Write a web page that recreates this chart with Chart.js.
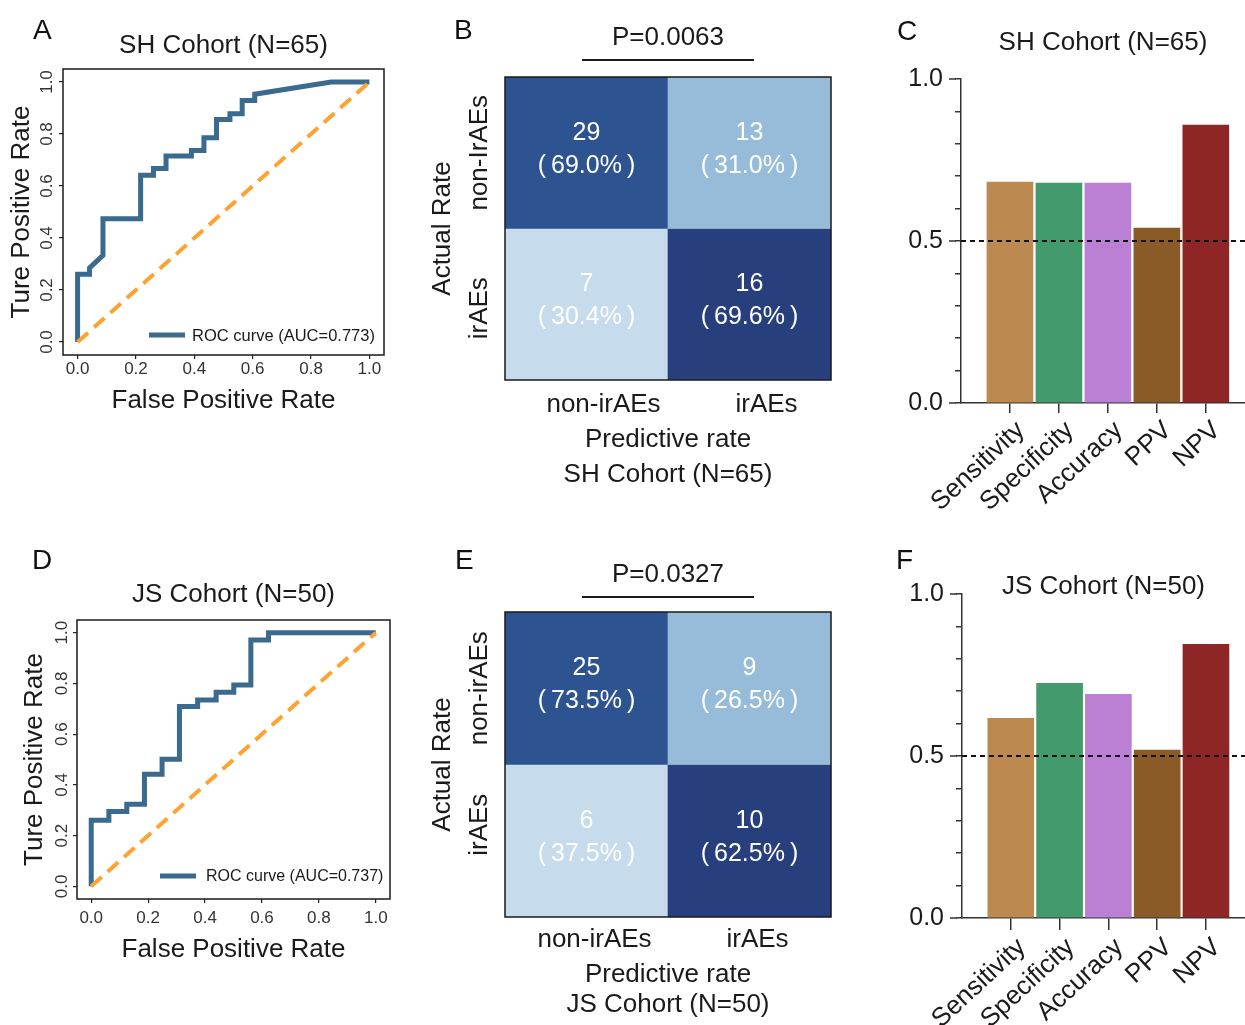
<!DOCTYPE html>
<html>
<head>
<meta charset="utf-8">
<script src="https://cdn.jsdelivr.net/npm/chart.js@4.4.1/dist/chart.umd.min.js"></script>
<style>
  body { margin: 0; background: #fff; }
  #wrap { position: relative; width: 1245px; height: 1025px; overflow: hidden; font-family: "Liberation Sans", Arial, Helvetica, sans-serif; }
  #wrap canvas { position: absolute; }
  .tag { position: absolute; font-size: 28px; line-height: 28px; color: #111; }
</style>
</head>
<body>
<div id="wrap">
  <canvas id="rocA" width="410" height="420" style="left:0;top:0"></canvas>
  <canvas id="cmB" width="430" height="500" style="left:420px;top:0"></canvas>
  <canvas id="barC" width="365" height="520" style="left:880px;top:0"></canvas>
  <canvas id="rocD" width="410" height="430" style="left:0;top:540px"></canvas>
  <canvas id="cmE" width="430" height="485" style="left:420px;top:540px"></canvas>
  <canvas id="barF" width="365" height="485" style="left:880px;top:540px"></canvas>
  <div class="tag" style="left:33px;top:16px">A</div>
  <div class="tag" style="left:454px;top:16px">B</div>
  <div class="tag" style="left:897px;top:17px">C</div>
  <div class="tag" style="left:32px;top:546px">D</div>
  <div class="tag" style="left:455px;top:546px">E</div>
  <div class="tag" style="left:896px;top:546px">F</div>
</div>
<script>
const family = '"Liberation Sans", Arial, Helvetica, sans-serif';
Chart.defaults.font.family = family;
Chart.defaults.color = '#1a1a1a';

// ROC curves
const rocTicks = [0, 0.2, 0.4, 0.6, 0.8, 1.0];
const shFpr = [0, 0, 0.041, 0.041, 0.087, 0.087, 0.216, 0.216, 0.26, 0.26, 0.303, 0.303, 0.39, 0.39, 0.433, 0.433, 0.476, 0.476, 0.522, 0.522, 0.564, 0.564, 0.607, 0.607, 0.869, 1.0];
const shTpr = [0, 0.261, 0.261, 0.285, 0.333, 0.474, 0.474, 0.641, 0.641, 0.667, 0.667, 0.715, 0.715, 0.737, 0.737, 0.786, 0.786, 0.856, 0.856, 0.878, 0.878, 0.929, 0.929, 0.953, 1.0, 1.0];
const jsFpr = [0, 0, 0.062, 0.062, 0.125, 0.125, 0.187, 0.187, 0.249, 0.249, 0.31, 0.31, 0.374, 0.374, 0.439, 0.439, 0.501, 0.501, 0.561, 0.561, 0.623, 0.623, 1.0];
const jsTpr = [0, 0.26, 0.26, 0.295, 0.295, 0.324, 0.324, 0.442, 0.442, 0.501, 0.501, 0.709, 0.709, 0.735, 0.735, 0.765, 0.765, 0.794, 0.794, 0.971, 0.971, 1.0, 1.0];
const chanceX = [0, 1];
const chanceY = [0, 1];

// confusion matrices (rows = actual, cols = predicted)
const predLabels = ['non-irAEs', 'irAEs'];
const shActual = ['non-IrAEs', 'irAEs'];
const jsActual = ['non-irAEs', 'irAEs'];
const shCounts = [[29, 13], [7, 16]];
const shPercent = [['69.0%', '31.0%'], ['30.4%', '69.6%']];
const jsCounts = [[25, 9], [6, 10]];
const jsPercent = [['73.5%', '26.5%'], ['37.5%', '62.5%']];
const cellColors = [['#2d5391', '#97bcda'], ['#c6dbec', '#283f7e']];

// metrics
const metricNames = ['Sensitivity', 'Specificity', 'Accuracy', 'PPV', 'NPV'];
const shMetrics = [0.682, 0.679, 0.679, 0.540, 0.858];
const jsMetrics = [0.616, 0.724, 0.690, 0.518, 0.845];
const metricColors = ['#bc8950', '#439a6c', '#bb7fd3', '#8a5a27', '#8e2625'];
const metricTicks = [0, 0.5, 1.0];
const metricXMax = 5.8;
const refLevel = 0.5;

// ---- small plugins ----
const frame = {
  id: 'frame',
  afterDraw(chart) {
    const a = chart.chartArea, ctx = chart.ctx;
    ctx.save();
    ctx.strokeStyle = '#1a1a1a';
    ctx.lineWidth = 1.5;
    ctx.strokeRect(a.left, a.top, a.right - a.left, a.bottom - a.top);
    ctx.restore();
  }
};

// y tick labels drawn vertically
const rotY = {
  id: 'rotY',
  afterDraw(chart, args, o) {
    const s = chart.scales.y, ctx = chart.ctx;
    ctx.save();
    ctx.font = o.size + 'px ' + family;
    ctx.fillStyle = o.color;
    ctx.textAlign = 'center';
    ctx.textBaseline = 'middle';
    s.ticks.forEach((t, i) => {
      const shift = o.shift ? o.shift[i] || 0 : 0;
      ctx.save();
      ctx.translate(chart.chartArea.left - o.offset, s.getPixelForValue(t.value) + shift);
      ctx.rotate(-Math.PI / 2);
      ctx.fillText(t.label, 0, 0);
      ctx.restore();
    });
    ctx.restore();
  }
};

const rocLegend = {
  id: 'rocLegend',
  afterDraw(chart, args, o) {
    const ds = chart.data.datasets[0], ctx = chart.ctx;
    ctx.save();
    ctx.strokeStyle = ds.borderColor;
    ctx.lineWidth = 5;
    ctx.beginPath();
    ctx.moveTo(o.x, o.y);
    ctx.lineTo(o.x + 36, o.y);
    ctx.stroke();
    ctx.font = o.size + 'px ' + family;
    ctx.fillStyle = '#1a1a1a';
    ctx.textBaseline = 'middle';
    ctx.fillText(ds.label, o.x + o.gap, o.y + 1);
    ctx.restore();
  }
};

const cellText = {
  id: 'cellText',
  afterDatasetsDraw(chart) {
    const ctx = chart.ctx;
    ctx.save();
    ctx.fillStyle = '#fff';
    ctx.textAlign = 'center';
    ctx.textBaseline = 'middle';
    ctx.font = '25px ' + family;
    chart.data.datasets.forEach((ds, di) => {
      chart.getDatasetMeta(di).data.forEach((bar, j) => {
        const cy = (bar.y + bar.base) / 2;
        ctx.fillText(String(ds.counts[j]), bar.x, cy - 20);
        ctx.fillText('(\u2009' + ds.percent[j] + '\u2009)', bar.x, cy + 13);
      });
    });
    ctx.restore();
  }
};

const pLine = {
  id: 'pLine',
  afterDraw(chart, args, o) {
    const a = chart.chartArea, ctx = chart.ctx;
    const cx = (a.left + a.right) / 2;
    ctx.save();
    ctx.strokeStyle = '#1a1a1a';
    ctx.lineWidth = 2;
    ctx.beginPath();
    ctx.moveTo(cx - o.half, a.top - o.gap);
    ctx.lineTo(cx + o.half, a.top - o.gap);
    ctx.stroke();
    ctx.restore();
  }
};

const majorTicks = {
  id: 'majorTicks',
  afterDraw(chart) {
    const s = chart.scales.y, ctx = chart.ctx;
    ctx.save();
    ctx.strokeStyle = '#333';
    ctx.lineWidth = 1.5;
    metricTicks.forEach(v => {
      const y = s.getPixelForValue(v);
      ctx.beginPath();
      ctx.moveTo(chart.chartArea.left - 12, y);
      ctx.lineTo(chart.chartArea.left - 5, y);
      ctx.stroke();
    });
    ctx.restore();
  }
};

// ---- ROC panels ----
function rocChart(id, fpr, tpr, label, title, L) {
  const pts = fpr.map((x, i) => ({ x: x, y: tpr[i] }));
  const chance = chanceX.map((x, i) => ({ x: x, y: chanceY[i] }));
  return new Chart(document.getElementById(id), {
    type: 'scatter',
    data: {
      datasets: [
        { label: label, data: pts, showLine: true, borderColor: '#3a6a8d', borderWidth: 5, pointRadius: 0, borderJoinStyle: 'miter', order: 1 },
        { label: 'chance', data: chance, showLine: true, borderColor: '#ffa22f', borderWidth: 4, borderDash: [14, 8], pointRadius: 0, order: 0 }
      ]
    },
    options: {
      responsive: false, animation: false, devicePixelRatio: 1,
      layout: { padding: { left: 0, top: 0, right: L.padRight, bottom: 0 } },
      plugins: {
        legend: { display: false },
        tooltip: { enabled: false },
        title: { display: true, text: title, fullSize: false, color: '#1a1a1a', font: { size: 26, weight: 'normal' }, padding: { top: L.titleTop, bottom: L.titleBottom } },
        rotY: { offset: L.yLabelOffset, size: 17, color: '#333' },
        rocLegend: { x: L.legX, y: L.legY, gap: L.legGap, size: L.legSize }
      },
      scales: {
        x: {
          type: 'linear', min: -0.05, max: 1.05,
          afterBuildTicks: s => { s.ticks = rocTicks.map(v => ({ value: v })); },
          ticks: { font: { size: 17 }, color: '#333', padding: L.xTickPad, maxRotation: 0, callback: v => v.toFixed(1) },
          grid: { drawOnChartArea: false, tickLength: 4, color: '#222', lineWidth: 1.2 },
          border: { display: false },
          title: { display: true, text: 'False Positive Rate', font: { size: 26 }, padding: { top: 0, bottom: L.xTitlePad } },
          afterFit: s => { s.height = L.xHeight; s.paddingLeft = 0; s.paddingRight = 0; }
        },
        y: {
          type: 'linear', min: -0.05, max: 1.05,
          afterBuildTicks: s => { s.ticks = rocTicks.map(v => ({ value: v })); },
          ticks: { display: false, callback: v => v.toFixed(1) },
          grid: { drawOnChartArea: false, tickLength: 4, color: '#222', lineWidth: 1.2 },
          border: { display: false },
          title: { display: true, text: 'Ture Positive Rate', font: { size: 26 }, padding: { top: L.yTitlePad, bottom: 0 } },
          afterFit: s => { s.width = L.yWidth; s.paddingTop = 0; s.paddingBottom = 0; }
        }
      }
    },
    plugins: [frame, rotY, rocLegend]
  });
}

// ---- confusion matrix panels ----
function matrixChart(id, actual, counts, percent, pText, xTitle, L) {
  const n = actual.length;
  const datasets = actual.map((lab, r) => ({
    label: lab,
    data: predLabels.map(() => [n - 1 - r, n - r]),
    backgroundColor: cellColors[r],
    borderWidth: 0,
    counts: counts[r],
    percent: percent[r]
  }));
  return new Chart(document.getElementById(id), {
    type: 'bar',
    data: { labels: predLabels, datasets: datasets },
    options: {
      responsive: false, animation: false, devicePixelRatio: 1,
      grouped: false, barPercentage: 1, categoryPercentage: 1,
      layout: { padding: { left: 0, top: 0, right: L.padRight, bottom: 0 } },
      plugins: {
        legend: { display: false },
        tooltip: { enabled: false },
        title: { display: true, text: pText, fullSize: false, color: '#1a1a1a', font: { size: 26, weight: 'normal' }, padding: { top: L.titleTop, bottom: L.titleBottom } },
        rotY: { offset: 25, size: 26, color: '#1a1a1a', shift: L.yShift },
        pLine: { half: 86, gap: L.lineGap }
      },
      scales: {
        x: {
          grid: { display: false, drawTicks: false },
          border: { display: false },
          ticks: { font: { size: 26 }, color: '#1a1a1a', padding: L.xTickPad, labelOffset: L.labelOffset },
          title: { display: true, text: ['Predictive rate', xTitle], font: { size: 26, lineHeight: L.xTitleLH }, padding: { top: 0, bottom: L.xTitlePad } },
          afterFit: s => { s.height = L.xHeight; s.paddingLeft = 0; s.paddingRight = 0; }
        },
        y: {
          type: 'linear', min: 0, max: n,
          afterBuildTicks: s => { s.ticks = actual.map((l, r) => ({ value: n - r - 0.5 })); },
          ticks: { display: false, callback: v => actual[n - 1 - Math.floor(v)] },
          grid: { display: false, drawTicks: false },
          border: { display: false },
          title: { display: true, text: 'Actual Rate', font: { size: 26 }, padding: { top: 7.4, bottom: 0 } },
          afterFit: s => { s.width = 85; s.paddingTop = 0; s.paddingBottom = 0; }
        }
      }
    },
    plugins: [cellText, frame, rotY, pLine]
  });
}

// ---- metric bar panels ----
function metricChart(id, values, title, L) {
  return new Chart(document.getElementById(id), {
    type: 'bar',
    data: {
      datasets: [
        { type: 'line', label: 'reference', data: [{ x: 0, y: refLevel }, { x: metricXMax, y: refLevel }], borderColor: '#111', borderWidth: 2, borderDash: [5, 4], pointRadius: 0, order: 0 },
        { label: title, data: values.map((v, i) => ({ x: i + 1, y: v })), backgroundColor: metricColors, borderWidth: 0, barThickness: 46, order: 1 }
      ]
    },
    options: {
      responsive: false, animation: false, devicePixelRatio: 1,
      layout: { padding: 0 },
      plugins: {
        legend: { display: false },
        tooltip: { enabled: false },
        title: { display: true, text: title, fullSize: false, color: '#1a1a1a', font: { size: 26, weight: 'normal' }, padding: { top: L.titleTop, bottom: L.titleBottom } }
      },
      scales: {
        x: {
          type: 'linear', min: 0, max: metricXMax, offset: false,
          afterBuildTicks: s => { s.ticks = metricNames.map((nm, i) => ({ value: i + 1 })); },
          ticks: { font: { size: 26 }, color: '#1a1a1a', minRotation: 43, maxRotation: 43, padding: 2, labelOffset: 11, autoSkip: false, callback: v => metricNames[Math.round(v) - 1] },
          grid: { drawOnChartArea: false, offset: false, tickLength: L.xTickLen, color: '#333', lineWidth: 1.5 },
          border: { color: '#333', width: 1.5 },
          afterFit: s => { s.height = L.xHeight; s.paddingLeft = 0; s.paddingRight = 0; }
        },
        y: {
          min: 0, max: 1,
          ticks: { stepSize: 0.1, autoSkip: false, font: { size: 25 }, color: '#1a1a1a', padding: 12,
            callback: v => metricTicks.some(t => Math.abs(t - v) < 1e-6) ? v.toFixed(1) : '' },
          grid: { drawOnChartArea: false, tickLength: 6, color: '#333', lineWidth: 1.5 },
          border: { color: '#333', width: 1.5 },
          afterFit: s => { s.width = L.yWidth; s.paddingTop = 0; s.paddingBottom = 0; }
        }
      }
    },
    plugins: [majorTicks]
  });
}

rocChart('rocA', shFpr, shTpr, 'ROC curve (AUC=0.773)', 'SH Cohort (N=65)', {
  padRight: 26, titleTop: 30.4, titleBottom: 7.4, xHeight: 65, xTitlePad: 3.4, xTickPad: 0,
  yWidth: 63, yTitlePad: 6.4, yLabelOffset: 16, legX: 149, legY: 335, legGap: 43, legSize: 16.5
});
rocChart('rocD', jsFpr, jsTpr, 'ROC curve (AUC=0.737)', 'JS Cohort (N=50)', {
  padRight: 20, titleTop: 39.4, titleBottom: 9.4, xHeight: 71, xTitlePad: 4.4, xTickPad: 4.8,
  yWidth: 77, yTitlePad: 19.4, yLabelOffset: 15, legX: 160, legY: 336, legGap: 46, legSize: 16
});

matrixChart('cmB', shActual, shCounts, shPercent, 'P=0.0063', 'SH Cohort (N=65)', {
  padRight: 19, titleTop: 22.4, titleBottom: 23.4, lineGap: 17, xTickPad: 9.4, labelOffset: 17,
  xTitleLH: 1.346, xTitlePad: 7.5, xHeight: 120, yShift: [0, 4]
});
matrixChart('cmE', jsActual, jsCounts, jsPercent, 'P=0.0327', 'JS Cohort (N=50)', {
  padRight: 19, titleTop: 19.4, titleBottom: 21.4, lineGap: 15, xTickPad: 7.4, labelOffset: 8,
  xTitleLH: 1.154, xTitlePad: 5, xHeight: 108, yShift: [0, -16]
});

metricChart('barC', shMetrics, 'SH Cohort (N=65)', { titleTop: 27.4, titleBottom: 20.4, xHeight: 117, yWidth: 81, xTickLen: 10 });
metricChart('barF', jsMetrics, 'JS Cohort (N=50)', { titleTop: 31.4, titleBottom: -8.6, xHeight: 107, yWidth: 82, xTickLen: 12 });
</script>
</body>
</html>
